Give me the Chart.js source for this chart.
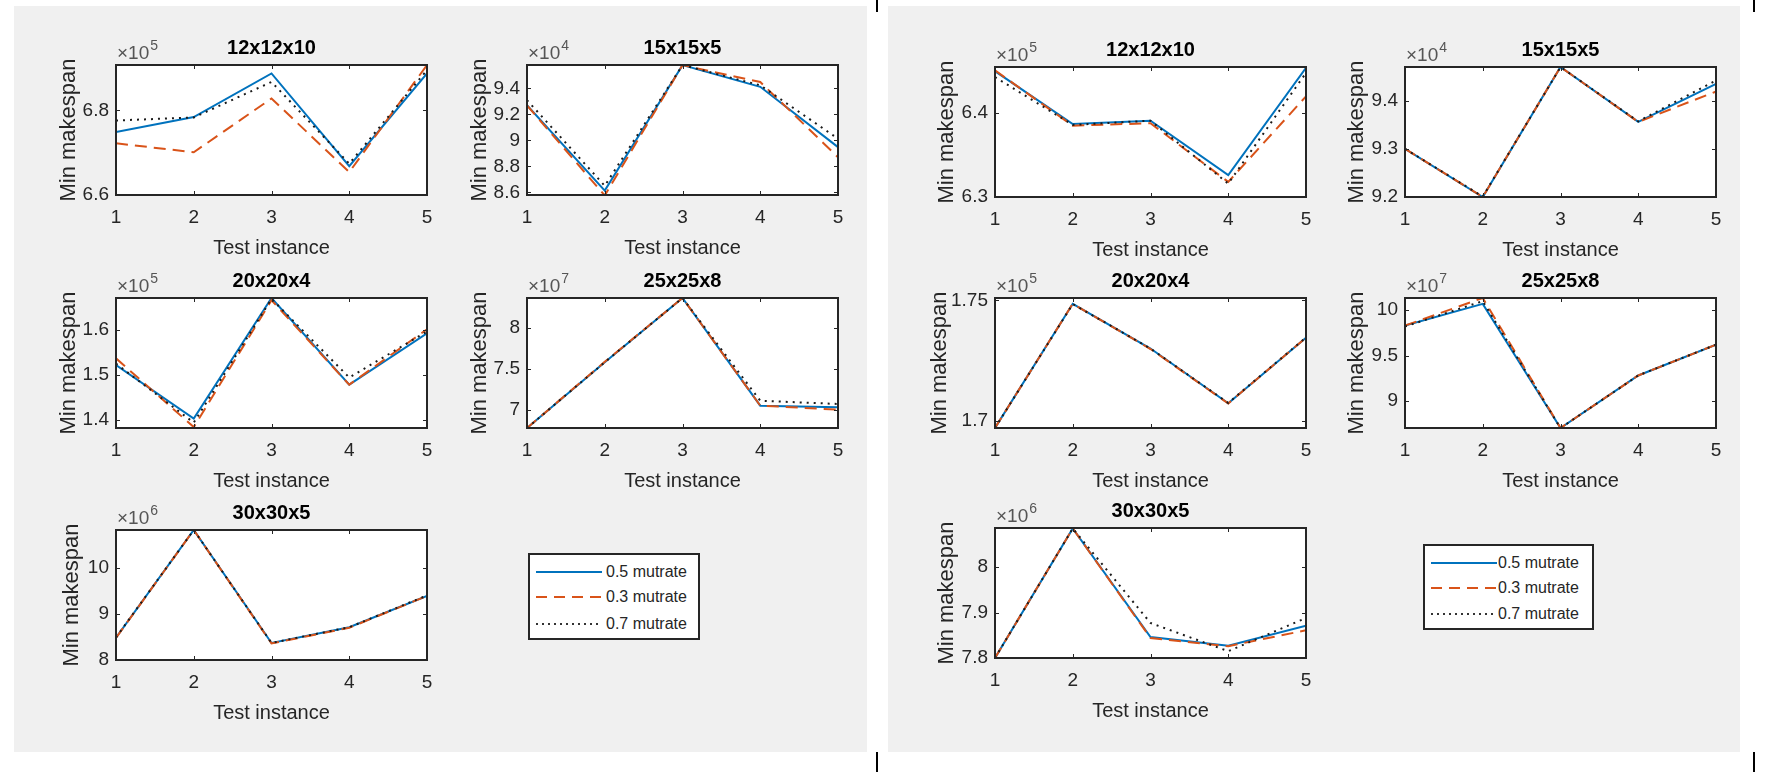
<!DOCTYPE html>
<html><head><meta charset="utf-8">
<script src="https://cdn.jsdelivr.net/npm/chart.js@4.4.0/dist/chart.umd.min.js"></script>
<style>
html,body{margin:0;padding:0;background:#fff;width:1765px;height:772px;overflow:hidden;font-family:'Liberation Sans',Arial,sans-serif;}
.panel{position:absolute;background:#f0f0f0;}
.vline{position:absolute;width:2px;background:#000;}
canvas{position:absolute;}
.legend{position:absolute;background:#fff;border:2px solid #262626;box-sizing:border-box;}
.sample{position:absolute;height:2px;}
.ltext{position:absolute;font-size:16px;color:#262626;line-height:18px;white-space:nowrap;}
</style></head>
<body>
<script>
// ---------------- data ----------------
const instances = [1, 2, 3, 4, 5];
const subplotTitles = ['12x12x10', '15x15x5', '20x20x4', '25x25x8', '30x30x5'];
const exponents = [5, 4, 5, 7, 6];
const seriesLabels = ['0.5 mutrate', '0.3 mutrate', '0.7 mutrate'];

// left figure (values in units of 10^exponent)
const left12_m05 = [6.749, 6.784, 6.887, 6.668, 6.887];
const left12_m03 = [6.722, 6.701, 6.828, 6.654, 6.907];
const left12_m07 = [6.776, 6.783, 6.867, 6.674, 6.895];
const left15_m05 = [9.271, 8.613, 9.580, 9.413, 8.948];
const left15_m03 = [9.270, 8.575, 9.580, 9.450, 8.870];
const left15_m07 = [9.310, 8.650, 9.580, 9.425, 9.013];
const left20_m05 = [1.522, 1.402, 1.672, 1.478, 1.593];
const left20_m03 = [1.537, 1.383, 1.667, 1.478, 1.602];
const left20_m07 = [1.525, 1.393, 1.670, 1.494, 1.597];
const left25_m05 = [6.777, 7.580, 8.364, 7.050, 7.030];
const left25_m03 = [6.777, 7.585, 8.364, 7.050, 7.000];
const left25_m07 = [6.777, 7.580, 8.364, 7.110, 7.070];
const left30_m05 = [8.486, 10.82, 8.370, 8.710, 9.390];
const left30_m03 = [8.480, 10.82, 8.360, 8.700, 9.390];
const left30_m07 = [8.490, 10.82, 8.370, 8.710, 9.400];

// right figure
const right12_m05 = [6.450, 6.387, 6.391, 6.326, 6.454];
const right12_m03 = [6.451, 6.385, 6.388, 6.318, 6.420];
const right12_m07 = [6.443, 6.386, 6.391, 6.316, 6.448];
const right15_m05 = [9.300, 9.200, 9.470, 9.356, 9.435];
const right15_m03 = [9.300, 9.200, 9.470, 9.356, 9.419];
const right15_m07 = [9.300, 9.201, 9.470, 9.357, 9.442];
const right20_m05 = [1.697, 1.7486, 1.730, 1.7073, 1.7345];
const right20_m03 = [1.697, 1.7486, 1.7298, 1.7072, 1.7345];
const right20_m07 = [1.697, 1.7485, 1.7300, 1.7074, 1.7346];
const right25_m05 = [9.830, 10.070, 8.700, 9.280, 9.620];
const right25_m03 = [9.830, 10.135, 8.700, 9.280, 9.620];
const right25_m07 = [9.820, 10.100, 8.700, 9.280, 9.620];
const right30_m05 = [7.800, 8.085, 7.846, 7.827, 7.871];
const right30_m03 = [7.800, 8.085, 7.844, 7.826, 7.861];
const right30_m07 = [7.800, 8.085, 7.877, 7.815, 7.888];

// axis limits and tick labels
const leftYMin = [6.6, 8.579, 1.381, 6.777, 8.0];
const leftYMax = [6.907, 9.581, 1.672, 8.364, 10.82];
const leftYTicks = [[6.6, 6.8], [8.6, 8.8, 9, 9.2, 9.4], [1.4, 1.5, 1.6], [7, 7.5, 8], [8, 9, 10]];
const rightYMin = [6.3, 9.2, 1.697, 8.70, 7.8];
const rightYMax = [6.455, 9.47, 1.751, 10.135, 8.086];
const rightYTicks = [[6.3, 6.4], [9.2, 9.3, 9.4], [1.7, 1.75], [9, 9.5, 10], [7.8, 7.9, 8]];
const xTickLabels = instances;

const leftSeries = [
  [left12_m05, left12_m03, left12_m07],
  [left15_m05, left15_m03, left15_m07],
  [left20_m05, left20_m03, left20_m07],
  [left25_m05, left25_m03, left25_m07],
  [left30_m05, left30_m03, left30_m07]
];
const rightSeries = [
  [right12_m05, right12_m03, right12_m07],
  [right15_m05, right15_m03, right15_m07],
  [right20_m05, right20_m03, right20_m07],
  [right25_m05, right25_m03, right25_m07],
  [right30_m05, right30_m03, right30_m07]
];

// ---------------- layout ----------------
const FONT = "'Liberation Sans', Arial, Helvetica, sans-serif";
Chart.defaults.font.family = FONT;
Chart.defaults.color = '#262626';

const BOX_W = 311, BOX_H = 130;
const PAD_L = 70, PAD_T = 45, PAD_R = 20, PAD_B = 70;
const leftBoxes = [[116, 65], [527, 65], [116, 298], [527, 298], [116, 530]];
const rightBoxes = [[995, 67], [1405, 67], [995, 298], [1405, 298], [995, 528]];
const leftYTitlePad = [10, 10, 10, 10, 13];
const rightYTitlePad = [9, 9, 2, 9, 9];

function addDiv(cls, l, t, w, h, parent) {
  const d = document.createElement('div');
  d.className = cls;
  d.style.left = l + 'px'; d.style.top = t + 'px';
  if (w != null) d.style.width = w + 'px';
  if (h != null) d.style.height = h + 'px';
  (parent || document.body).appendChild(d);
  return d;
}

addDiv('panel', 14, 6, 853, 746);
addDiv('panel', 888, 6, 852, 746);
addDiv('vline', 876, 0, null, 12);
addDiv('vline', 876, 752, null, 20);
addDiv('vline', 1753, 0, null, 12);
addDiv('vline', 1753, 752, null, 20);

const styles = [
  { borderColor: '#0072BD', borderDash: [], order: 2 },
  { borderColor: '#D95319', borderDash: [12, 7], order: 1 },
  { borderColor: '#1a1a1a', borderDash: [2, 5], order: 0 }
];

const matlabAxes = {
  id: 'matlabAxes',
  beforeDraw(chart) {
    const { ctx, chartArea: a } = chart;
    ctx.save();
    ctx.fillStyle = '#ffffff';
    ctx.fillRect(a.left, a.top, a.right - a.left, a.bottom - a.top);
    ctx.restore();
  },
  afterDraw(chart, args, opts) {
    const { ctx, chartArea: a, scales } = chart;
    const x = scales.x, y = scales.y;
    ctx.save();
    ctx.strokeStyle = '#262626';
    ctx.lineWidth = 1;
    const tl = 4;
    ctx.beginPath();
    x.ticks.forEach(t => {
      const px = Math.round(x.getPixelForValue(t.value)) + 0.5;
      ctx.moveTo(px, a.bottom); ctx.lineTo(px, a.bottom - tl);
      ctx.moveTo(px, a.top); ctx.lineTo(px, a.top + tl);
    });
    y.ticks.forEach(t => {
      const py = Math.round(y.getPixelForValue(t.value)) + 0.5;
      ctx.moveTo(a.left, py); ctx.lineTo(a.left + tl, py);
      ctx.moveTo(a.right, py); ctx.lineTo(a.right - tl, py);
    });
    ctx.stroke();
    ctx.lineWidth = 2;
    ctx.strokeRect(a.left, a.top, a.right - a.left, a.bottom - a.top);
    // subplot title
    ctx.fillStyle = '#000';
    ctx.font = 'bold 20px ' + FONT;
    ctx.textAlign = 'center';
    ctx.textBaseline = 'middle';
    ctx.fillText(opts.title, (a.left + a.right) / 2, a.top - 17);
    // exponent label
    ctx.fillStyle = '#555';
    ctx.textAlign = 'left';
    ctx.textBaseline = 'alphabetic';
    ctx.font = '19px ' + FONT;
    ctx.fillText('\u00d710', a.left + 1, a.top - 6);
    const w = ctx.measureText('\u00d710').width;
    ctx.font = '14px ' + FONT;
    ctx.fillText(String(opts.exp), a.left + 1 + w + 1, a.top - 15);
    ctx.restore();
  }
};

function makeChart(box, idx, series, yMin, yMax, yTicks, yTitlePad) {
  const c = document.createElement('canvas');
  const W = BOX_W + PAD_L + PAD_R, H = BOX_H + PAD_T + PAD_B;
  c.width = W; c.height = H;
  c.style.left = (box[0] - PAD_L) + 'px';
  c.style.top = (box[1] - PAD_T) + 'px';
  c.style.width = W + 'px'; c.style.height = H + 'px';
  document.body.appendChild(c);
  const datasets = series.map((arr, k) => ({
    label: seriesLabels[k],
    data: instances.map((xv, i) => ({ x: xv, y: arr[i] })),
    borderColor: styles[k].borderColor,
    borderDash: styles[k].borderDash,
    borderWidth: 2,
    pointRadius: 0,
    tension: 0,
    fill: false,
    order: styles[k].order
  }));
  new Chart(c, {
    type: 'line',
    data: { datasets },
    options: {
      responsive: false,
      animation: false,
      devicePixelRatio: 1,
      layout: { padding: { top: PAD_T, right: PAD_R, left: 0, bottom: 0 } },
      plugins: {
        legend: { display: false },
        tooltip: { enabled: false },
        matlabAxes: { title: subplotTitles[idx], exp: exponents[idx] }
      },
      scales: {
        x: {
          type: 'linear', min: 1, max: 5,
          afterBuildTicks: s => { s.ticks = xTickLabels.map(v => ({ value: v })); },
          afterFit: s => { s.height = PAD_B; },
          grid: { display: false, drawTicks: false },
          border: { display: false },
          ticks: { padding: 11, color: '#262626', font: { size: 19 }, callback: v => String(v), maxRotation: 0 },
          title: { display: true, text: 'Test instance', color: '#262626', font: { size: 20 }, padding: { top: 0, bottom: 5 } }
        },
        y: {
          type: 'linear', min: yMin, max: yMax,
          afterBuildTicks: s => { s.ticks = yTicks.map(v => ({ value: v })); },
          afterFit: s => { s.width = PAD_L; },
          grid: { display: false, drawTicks: false },
          border: { display: false },
          ticks: { padding: 7, color: '#262626', font: { size: 19 }, callback: v => String(+Number(v).toFixed(4)) },
          title: { display: true, text: 'Min makespan', color: '#262626', font: { size: 22 }, padding: { top: yTitlePad, bottom: 0 } }
        }
      }
    },
    plugins: [matlabAxes]
  });
}

leftBoxes.forEach((b, i) => makeChart(b, i, leftSeries[i], leftYMin[i], leftYMax[i], leftYTicks[i], leftYTitlePad[i]));
rightBoxes.forEach((b, i) => makeChart(b, i, rightSeries[i], rightYMin[i], rightYMax[i], rightYTicks[i], rightYTitlePad[i]));

// ---------------- legends ----------------
const sampleBg = [
  '#0072BD',
  'repeating-linear-gradient(to right, #D95319 0 11px, transparent 11px 18px)',
  'repeating-linear-gradient(to right, #333 0 2px, transparent 2px 6px)'
];
function makeLegend(l, t, w, h, textX, rowsY) {
  const lg = addDiv('legend', l, t, w, h);
  rowsY.forEach((ry, k) => {
    const s = addDiv('sample', 6, ry - 1, 66, null, lg);
    s.style.background = sampleBg[k];
    const tx = addDiv('ltext', textX, ry - 9, null, null, lg);
    tx.textContent = seriesLabels[k];
  });
}
makeLegend(528, 553, 172, 87, 76, [17, 42, 69]);
makeLegend(1423, 544, 171, 86, 73, [17, 42, 68]);
</script>
</body></html>
